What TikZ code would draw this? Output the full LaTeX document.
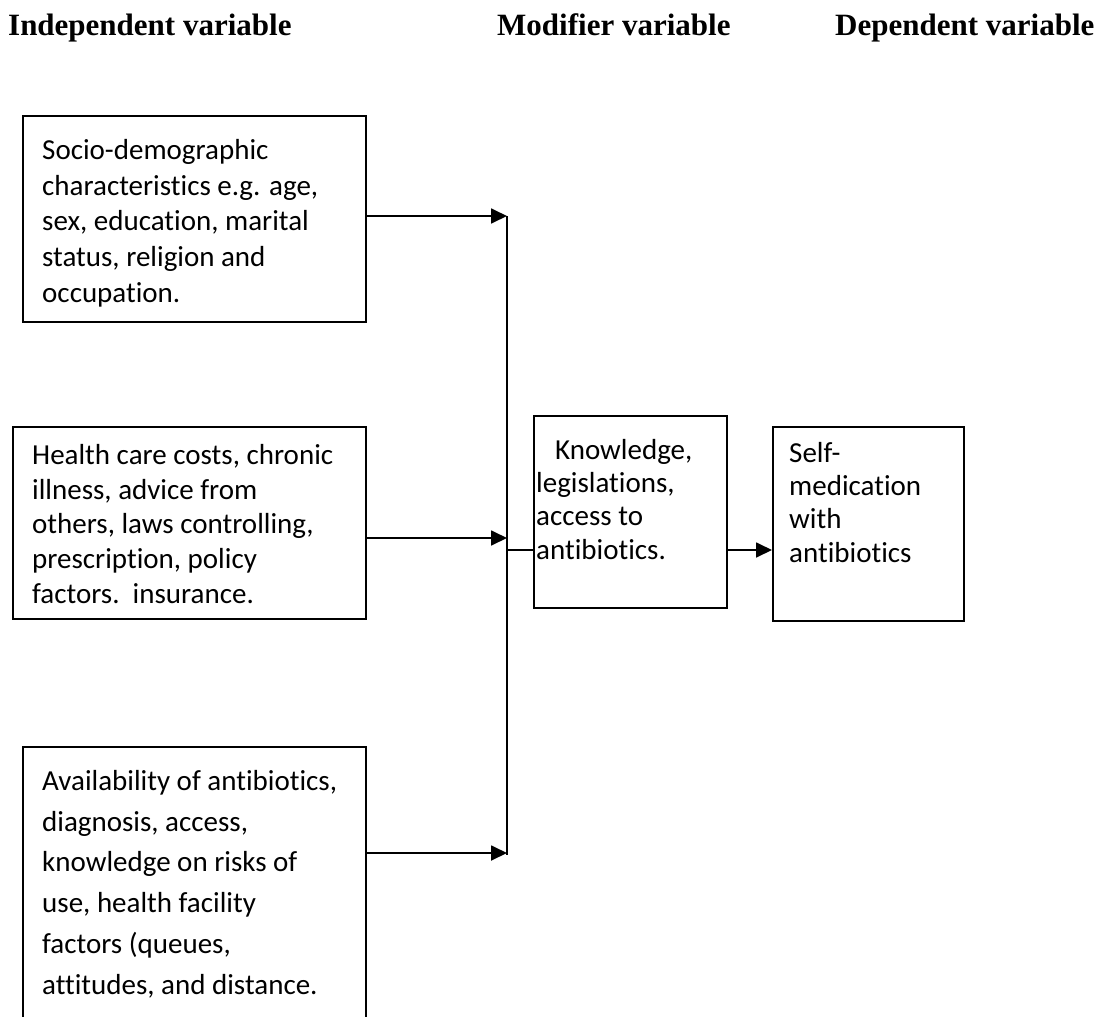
\documentclass[tikz,border=0pt]{standalone}
\usepackage{fontspec}
\setmainfont{Carlito}[Ligatures={NoCommon}]
\newfontfamily\hdfont{Liberation Serif}
\usetikzlibrary{arrows.meta}
\begin{document}
\begin{tikzpicture}[x=1pt,y=-1pt,
  box/.style={draw, line width=1.8pt, rectangle, inner sep=0pt, anchor=north west},
  txt/.style={anchor=north west, inner sep=0pt, align=left,
    font=\fontsize{29}{#1}\selectfont, execute at begin node={\rule{0pt}{25pt}}},
  txt/.default=35,
  hd/.style={anchor=base west, inner sep=0pt, font=\hdfont\bfseries\fontsize{31}{36}\selectfont},
  conn/.style={line width=1.8pt},
  arr/.style={line width=1.8pt, -{Triangle[length=16pt,width=15pt]}}]
\clip (0,0) rectangle (1109,1017);
\fill[white] (0,0) rectangle (1109,1017);
% headers
\node[hd] (h1) at (8,35) {Independent variable};
\node[hd] (h2) at (497,35) {Modifier variable};
\node[hd] (h3) at (835,35) {Dependent variable};
% boxes
\node[box, minimum width=343, minimum height=206] (b1) at (22,115) {};
\node[box, minimum width=353, minimum height=192] (b2) at (12,426) {};
\node[box, minimum width=343, minimum height=300] (b3) at (22,746) {};
\node[box, minimum width=193, minimum height=192] (m) at (533,415) {};
\node[box, minimum width=191, minimum height=194] (d) at (772,426) {};
% texts
\node[txt=35.8] (t1) at (42,139) {Socio-demographic\\characteristics e.g. age,\\sex, education, marital\\status, religion and\\occupation.};
\node[txt=34.8] (t2) at (32,444) {Health care costs, chronic\\illness, advice from\\others, laws controlling,\\prescription, policy\\factors.\ \ insurance.};
\node[txt=40.8] (t3) at (42,770) {Availability of antibiotics,\\diagnosis, access,\\knowledge on risks of\\use, health facility\\factors (queues,\\attitudes, and distance.};
\node[txt=33.3] (tm) at (536,439) {\hspace{19pt}Knowledge,\\legislations,\\access to\\antibiotics.};
\node[txt=33.3] (td) at (789,442) {Self-\\medication\\with\\antibiotics};
% connectors
\coordinate (v1) at (507,216);
\coordinate (v2) at (507,538);
\coordinate (v3) at (507,853);
\coordinate (vm) at (507,550);
\draw[conn] (v1) -- (507,855);
\draw[arr] (b1.east |- v1) -- (v1);
\draw[arr] (b2.east |- v2) -- (v2);
\draw[arr] (b3.east |- v3) -- (v3);
\draw[conn] (vm) -- (m.west |- vm);
\draw[arr] (m.east |- vm) -- (d.west |- vm);
\end{tikzpicture}
\end{document}
